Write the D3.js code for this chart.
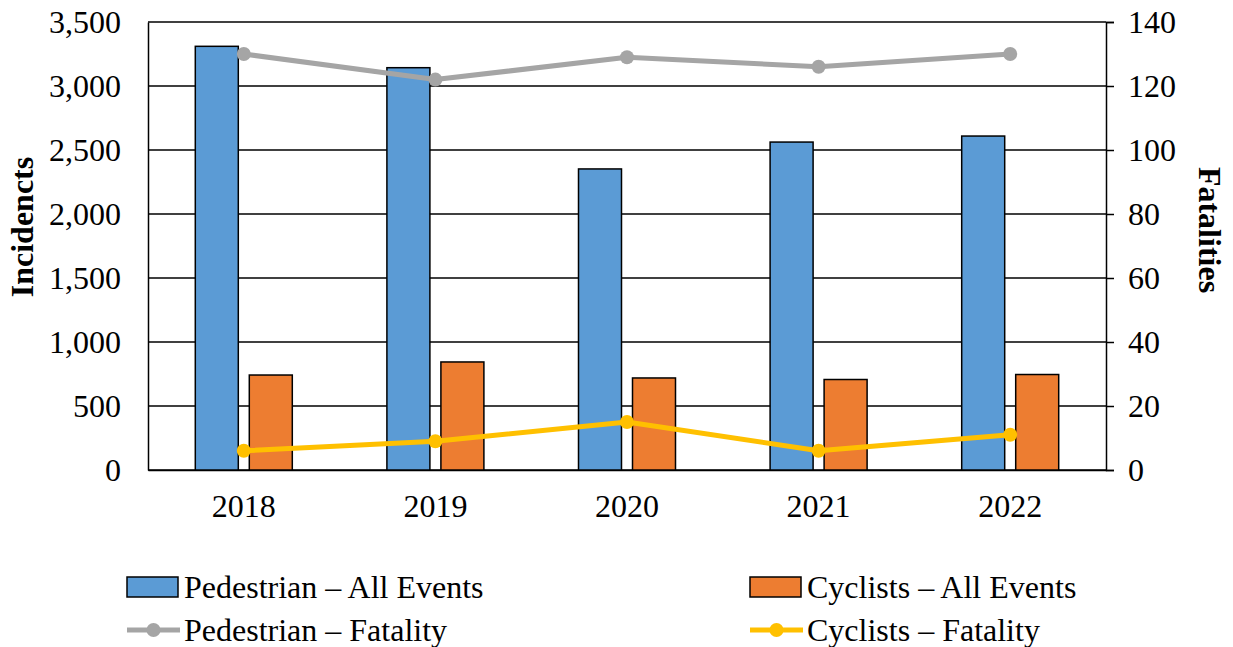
<!DOCTYPE html>
<html>
<head>
<meta charset="utf-8">
<script src="https://cdn.jsdelivr.net/npm/d3@7"></script>
<style>
  html, body { margin: 0; padding: 0; background: #fff; }
  svg text { font-family: "Liberation Serif", "Times New Roman", Tinos, Times, "DejaVu Serif", serif !important; }
</style>
</head>
<body>
<svg id="chart" width="1233" height="647"></svg>
<script>
// Yearly incidents (bars, left axis) and fatalities (lines, right axis)
const years = ["2018", "2019", "2020", "2021", "2022"];
const pedestrianEvents = [3310, 3143, 2352, 2562, 2609];
const cyclistEvents = [742, 844, 719, 707, 746];
const pedestrianFatal = [130, 122, 129, 126, 130];
const cyclistFatal = [6, 9, 15, 6, 11];
const leftTicks = [0, 500, 1000, 1500, 2000, 2500, 3000, 3500];
const rightTicks = [0, 20, 40, 60, 80, 100, 120, 140];

const colors = { ped: "#5B9BD5", cyc: "#ED7D31", pedLine: "#A5A5A5", cycLine: "#FFC000" };
const FS = 32;

const svg = d3.select("#chart");
const m = { left: 148, right: 1106, top: 22, bottom: 470 };

const x = d3.scaleBand().domain(years).range([m.left, m.right]).padding(0);
const yL = d3.scaleLinear().domain([0, 3500]).range([m.bottom, m.top]);
const yR = d3.scaleLinear().domain([0, 140]).range([m.bottom, m.top]);

// gridlines
svg.append("g").selectAll("line").data(leftTicks).join("line")
  .attr("x1", m.left).attr("x2", m.right)
  .attr("y1", d => yL(d)).attr("y2", d => yL(d))
  .attr("stroke", "#000").attr("stroke-width", 1.5);

// left axis
const gL = svg.append("g").attr("transform", `translate(${m.left},0)`)
  .call(d3.axisLeft(yL).tickValues(leftTicks).tickFormat(d3.format(",")).tickSize(0).tickPadding(27));
gL.select(".domain").attr("stroke", "#000").attr("stroke-width", 1.5);
gL.selectAll("text").attr("font-size", FS).attr("fill", "#000");

// right axis
const gR = svg.append("g").attr("transform", `translate(${m.right},0)`)
  .call(d3.axisRight(yR).tickValues(rightTicks).tickSize(8).tickPadding(14));
gR.select(".domain").attr("stroke", "#000").attr("stroke-width", 1.5);
gR.selectAll("line").attr("stroke", "#000").attr("stroke-width", 1.5);
gR.selectAll("text").attr("font-size", FS).attr("fill", "#000");

// bottom axis labels
const gB = svg.append("g").attr("transform", `translate(0,${m.bottom})`)
  .call(d3.axisBottom(x).tickSize(0).tickPadding(24));
gB.select(".domain").attr("stroke", "#000").attr("stroke-width", 1.5);
gB.selectAll("text").attr("font-size", FS).attr("fill", "#000");

// bars
const barW = 43, off = 27;
const bars = svg.append("g");
bars.selectAll("rect.ped").data(years).join("rect")
  .attr("x", (d) => x(d) + x.bandwidth() / 2 - off - barW / 2)
  .attr("y", (d, i) => yL(pedestrianEvents[i]))
  .attr("width", barW)
  .attr("height", (d, i) => yL(0) - yL(pedestrianEvents[i]))
  .attr("fill", colors.ped).attr("stroke", "#000").attr("stroke-width", 1.5);
bars.selectAll("rect.cyc").data(years).join("rect")
  .attr("x", (d) => x(d) + x.bandwidth() / 2 + off - barW / 2)
  .attr("y", (d, i) => yL(cyclistEvents[i]))
  .attr("width", barW)
  .attr("height", (d, i) => yL(0) - yL(cyclistEvents[i]))
  .attr("fill", colors.cyc).attr("stroke", "#000").attr("stroke-width", 1.5);

// lines with markers
function drawLine(vals, color) {
  const pts = years.map((d, i) => [x(d) + x.bandwidth() / 2, yR(vals[i])]);
  svg.append("path").attr("d", d3.line()(pts))
    .attr("fill", "none").attr("stroke", color).attr("stroke-width", 5)
    .attr("stroke-linejoin", "round");
  svg.append("g").selectAll("circle").data(pts).join("circle")
    .attr("cx", p => p[0]).attr("cy", p => p[1]).attr("r", 7).attr("fill", color);
}
drawLine(pedestrianFatal, colors.pedLine);
drawLine(cyclistFatal, colors.cycLine);

// axis titles
svg.append("text").attr("transform", "translate(33,227) rotate(-90)")
  .attr("text-anchor", "middle").attr("font-size", FS).attr("font-weight", "bold")
  .text("Incidencts");
svg.append("text").attr("transform", "translate(1199,230) rotate(90)")
  .attr("text-anchor", "middle").attr("font-size", FS).attr("font-weight", "bold")
  .text("Fatalities");

// legend
const legend = [
  { label: "Pedestrian – All Events", type: "box", color: colors.ped, x: 127, y: 587 },
  { label: "Cyclists – All Events", type: "box", color: colors.cyc, x: 750, y: 587 },
  { label: "Pedestrian – Fatality", type: "line", color: colors.pedLine, x: 127, y: 630 },
  { label: "Cyclists – Fatality", type: "line", color: colors.cycLine, x: 750, y: 630 }
];
const lg = svg.append("g").selectAll("g").data(legend).join("g")
  .attr("transform", d => `translate(${d.x},${d.y})`);
lg.filter(d => d.type === "box").append("rect")
  .attr("x", 0).attr("y", -10).attr("width", 51).attr("height", 20)
  .attr("fill", d => d.color).attr("stroke", "#000").attr("stroke-width", 1.5);
lg.filter(d => d.type === "line").append("line")
  .attr("x1", 0).attr("x2", 53).attr("y1", 0).attr("y2", 0)
  .attr("stroke", d => d.color).attr("stroke-width", 5);
lg.filter(d => d.type === "line").append("circle")
  .attr("cx", 26.5).attr("cy", 0).attr("r", 7).attr("fill", d => d.color);
lg.append("text").attr("x", 57).attr("y", 11).attr("font-size", FS).attr("fill", "#000")
  .text(d => d.label);
</script>
</body>
</html>
